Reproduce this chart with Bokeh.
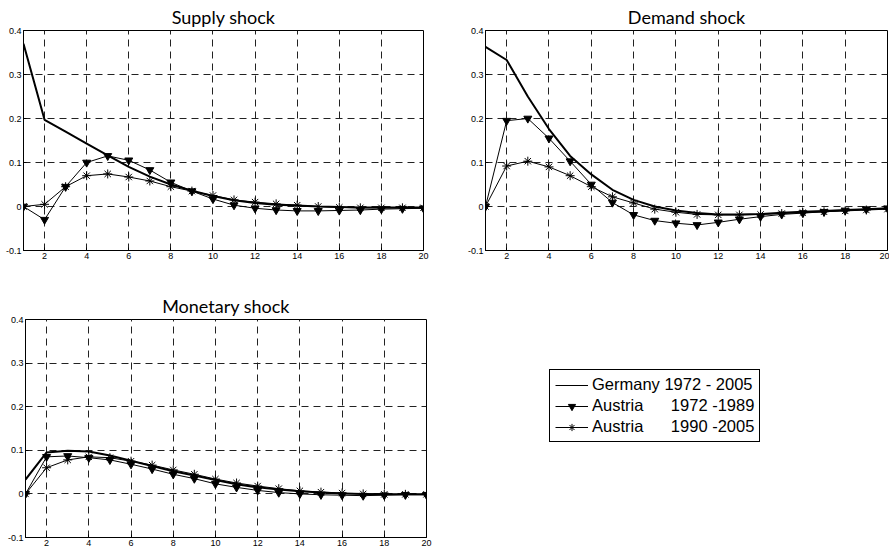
from bokeh.plotting import figure
from bokeh.layouts import column, row, Spacer
from bokeh.models import Range1d, FixedTicker, Legend, LegendItem
from bokeh.core.properties import value
from bokeh.embed import file_html
from bokeh.resources import INLINE

horizon = list(range(1, 21))

supply_germany = [0.370, 0.197, 0.170, 0.143, 0.116, 0.090, 0.068, 0.050, 0.036, 0.024,
                  0.014, 0.008, 0.004, 0.002, 0.000, -0.001, -0.002, -0.002, -0.002, -0.002]
supply_austria_7289 = [0.000, -0.030, 0.045, 0.100, 0.115, 0.105, 0.083, 0.055, 0.035, 0.017,
                       0.003, -0.004, -0.008, -0.010, -0.010, -0.009, -0.008, -0.006, -0.005, -0.004]
supply_austria_9005 = [0.000, 0.005, 0.045, 0.070, 0.074, 0.067, 0.058, 0.045, 0.035, 0.025,
                       0.015, 0.010, 0.006, 0.003, 0.000, -0.002, -0.003, -0.003, -0.003, -0.003]

demand_germany = [0.363, 0.333, 0.250, 0.176, 0.115, 0.073, 0.038, 0.015, 0.000, -0.009,
                  -0.015, -0.018, -0.018, -0.017, -0.014, -0.012, -0.010, -0.008, -0.006, -0.004]
demand_austria_7289 = [0.000, 0.195, 0.200, 0.155, 0.103, 0.050, 0.009, -0.019, -0.032, -0.038,
                       -0.042, -0.036, -0.029, -0.023, -0.018, -0.015, -0.012, -0.009, -0.006, -0.004]
demand_austria_9005 = [0.000, 0.092, 0.103, 0.090, 0.070, 0.045, 0.022, 0.008, -0.006, -0.013,
                       -0.018, -0.019, -0.019, -0.018, -0.016, -0.014, -0.012, -0.010, -0.008, -0.006]

monetary_germany = [0.033, 0.095, 0.099, 0.097, 0.088, 0.076, 0.064, 0.052, 0.042, 0.032,
                    0.022, 0.015, 0.010, 0.006, 0.003, 0.001, 0.000, -0.001, -0.001, -0.001]
monetary_austria_7289 = [0.000, 0.085, 0.087, 0.083, 0.078, 0.068, 0.057, 0.045, 0.035, 0.023,
                         0.015, 0.008, 0.003, 0.000, -0.002, -0.003, -0.004, -0.003, -0.002, -0.002]
monetary_austria_9005 = [0.000, 0.060, 0.078, 0.085, 0.083, 0.075, 0.066, 0.055, 0.045, 0.034,
                         0.025, 0.018, 0.012, 0.007, 0.004, 0.002, 0.000, -0.001, -0.001, -0.001]

x_ticks = [2, 4, 6, 8, 10, 12, 14, 16, 18, 20]
y_ticks = [-0.1, 0, 0.1, 0.2, 0.3, 0.4]
y_tick_labels = {-0.1: "-0.1", 0: "0", 0.1: "0.1", 0.2: "0.2", 0.3: "0.3", 0.4: "0.4"}

legend_labels = ["Germany 1972 - 2005",
                 "Austria" + "\u00a0" * 6 + "1972 -1989",
                 "Austria" + "\u00a0" * 6 + "1990 -2005"]

TICK_FONT = "Liberation Sans"
TITLE_FONT = "Lato"


def draw_series(p, g, a1, a2):
    rg = p.line(horizon, g, line_color="black", line_width=2)
    r1 = p.line(horizon, a1, line_color="black", line_width=1)
    r1m = p.scatter(horizon, a1, marker="inverted_triangle", size=8, fill_color="black", line_color="black")
    r2 = p.line(horizon, a2, line_color="black", line_width=1)
    r2m = p.scatter(horizon, a2, marker="asterisk", size=9, line_color="black", line_width=1)
    return rg, r1, r1m, r2, r2m


def make_panel(title, g, a1, a2, fw, fh, left, right, top, bottom):
    p = figure(frame_width=fw, frame_height=fh, min_border_left=left, min_border_right=right,
               min_border_top=top, min_border_bottom=bottom,
               x_range=Range1d(1, 20), y_range=Range1d(-0.1, 0.4),
               output_backend="svg", toolbar_location=None, title=title)
    p.title.align = "center"
    p.title.text_font = TITLE_FONT
    p.title.text_font_size = "18px"
    p.title.text_font_style = "normal"
    p.title.text_color = "black"
    p.title.standoff = 6
    p.outline_line_color = "black"
    p.outline_line_width = 1
    p.background_fill_color = "white"
    p.border_fill_color = "white"

    p.xaxis.ticker = FixedTicker(ticks=x_ticks)
    p.yaxis.ticker = FixedTicker(ticks=y_ticks)
    p.yaxis.major_label_overrides = y_tick_labels
    for ax in (p.xaxis[0], p.yaxis[0]):
        ax.axis_line_color = "black"
        ax.major_tick_in = 3
        ax.major_tick_out = 0
        ax.minor_tick_line_color = None
        ax.major_tick_line_color = "black"
        ax.major_label_text_font = TICK_FONT
        ax.major_label_text_font_size = "9px"
        ax.major_label_text_color = "black"
    p.xaxis.major_label_standoff = 2
    p.yaxis.major_label_standoff = 2

    p.xgrid.ticker = FixedTicker(ticks=x_ticks)
    p.ygrid.ticker = FixedTicker(ticks=y_ticks)
    for gr in (p.xgrid[0], p.ygrid[0]):
        gr.grid_line_color = "#222222"
        gr.grid_line_dash = "7 5"
        gr.grid_line_width = 1

    draw_series(p, g, a1, a2)
    return p


p1 = make_panel("Supply shock", supply_germany, supply_austria_7289, supply_austria_9005,
                400, 220, 20, 36, 24, 34)
p2 = make_panel("Demand shock", demand_germany, demand_austria_7289, demand_austria_9005,
                402, 220, 26, 2, 24, 34)
p3 = make_panel("Monetary shock", monetary_germany, monetary_austria_7289, monetary_austria_9005,
                401, 218, 21, 28, 35, 9)

# legend panel: its sample glyphs come from renderers kept outside the visible range
pleg = figure(width=310, height=261, min_border=0, x_range=Range1d(100, 101), y_range=Range1d(100, 101),
              output_backend="svg", toolbar_location=None)
pleg.axis.visible = False
pleg.grid.visible = False
pleg.outline_line_color = None
pleg.background_fill_color = "white"
pleg.border_fill_color = "white"
lg, l1, l1m, l2, l2m = draw_series(pleg, monetary_germany, monetary_austria_7289, monetary_austria_9005)
lg.glyph.line_width = 1
legend = Legend(items=[LegendItem(label=value(legend_labels[0]), renderers=[lg]),
                       LegendItem(label=value(legend_labels[1]), renderers=[l1, l1m]),
                       LegendItem(label=value(legend_labels[2]), renderers=[l2, l2m])],
                location=(95, 92), border_line_color="black", border_line_width=1,
                border_line_alpha=1,
                background_fill_color="white", background_fill_alpha=1,
                label_text_font=TICK_FONT, label_text_font_size="16.5px",
                label_text_color="black",
                glyph_width=33, glyph_height=18, label_height=18, spacing=2,
                padding=5, margin=0, label_standoff=4)
pleg.add_layout(legend, "center")

layout = column(row(Spacer(width=2), p1, p2), row(Spacer(width=4), p3, pleg))
open("out.html", "w").write(file_html(layout, INLINE))
